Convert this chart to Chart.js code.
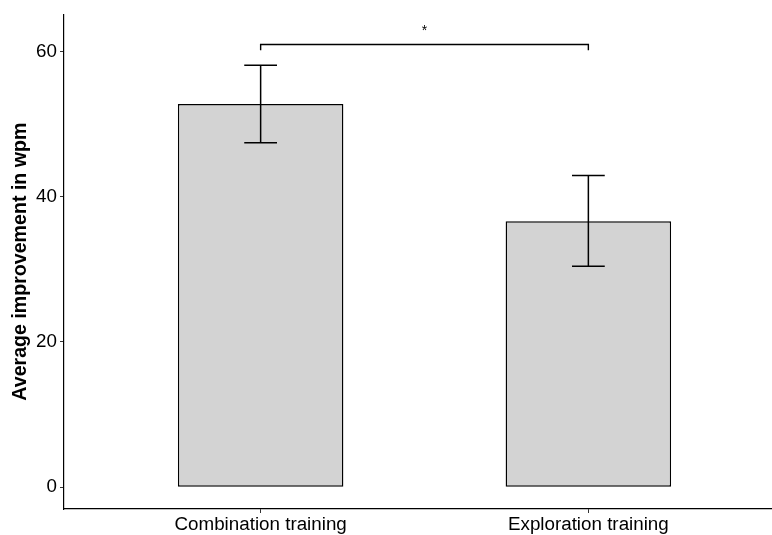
<!DOCTYPE html>
<html><head><meta charset="utf-8">
<script src="https://cdn.jsdelivr.net/npm/chart.js@4"></script>
<style>html,body{margin:0;padding:0;overflow:hidden;background:#fff}#wrap{width:800px;height:535px}</style>
</head><body><div id="wrap"><canvas id="c" width="800" height="535"></canvas></div>
<script>
const categories = ['Combination training', 'Exploration training'];
const meanImprovement = [52.75, 36.6];
const errLow = [47.4, 30.4];
const errHigh = [58.1, 42.9];
const yTicks = [0, 20, 40, 60];
const sigPair = [1, 2];          // compared categories (1-based)
const sigLevel = [60.95, 60.15]; // bracket top, bracket tick end
const sigLabel = ['*'];

const FONT = '"Liberation Sans", Arial, sans-serif';

const annot = {
  id: 'annot',
  afterDatasetsDraw(chart) {
    const ctx = chart.ctx, xs = chart.scales.x, ys = chart.scales.y;
    ctx.save();
    ctx.strokeStyle = '#000';
    ctx.lineWidth = 1.5;
    categories.forEach((c, i) => {
      const xc = xs.getPixelForValue(i + 1);
      const xl = xs.getPixelForValue(i + 1 - 0.05), xr = xs.getPixelForValue(i + 1 + 0.05);
      const yl = ys.getPixelForValue(errLow[i]), yh = ys.getPixelForValue(errHigh[i]);
      ctx.beginPath();
      ctx.moveTo(xc, yl); ctx.lineTo(xc, yh);
      ctx.moveTo(xl, yl); ctx.lineTo(xr, yl);
      ctx.moveTo(xl, yh); ctx.lineTo(xr, yh);
      ctx.stroke();
    });
    const x1 = xs.getPixelForValue(sigPair[0]), x2 = xs.getPixelForValue(sigPair[1]);
    const yt = ys.getPixelForValue(sigLevel[0]), yb = ys.getPixelForValue(sigLevel[1]);
    ctx.lineWidth = 1.4;
    ctx.beginPath();
    ctx.moveTo(x1, yb); ctx.lineTo(x1, yt); ctx.lineTo(x2, yt); ctx.lineTo(x2, yb);
    ctx.stroke();
    ctx.fillStyle = '#000';
    ctx.font = '14px ' + FONT;
    ctx.textAlign = 'center';
    ctx.textBaseline = 'middle';
    ctx.fillText(sigLabel[0], (x1 + x2) / 2, yt - 13.5);
    ctx.restore();
  }
};

new Chart(document.getElementById('c'), {
  type: 'bar',
  data: {
    datasets: [{
      data: meanImprovement.map((v, i) => ({ x: i + 1, y: v })),
      backgroundColor: '#D3D3D3',
      borderColor: '#000',
      borderWidth: 1.4,
      borderSkipped: false,
      barPercentage: 0.505,
      categoryPercentage: 1
    }]
  },
  options: {
    responsive: false,
    devicePixelRatio: 1,
    animation: false,
    layout: { padding: { top: 12, right: 15, left: 0, bottom: 0 } },
    plugins: { legend: { display: false }, tooltip: { enabled: false } },
    scales: {
      x: {
        type: 'linear', min: 0.4, max: 2.6, offset: false,
        afterBuildTicks: s => { s.ticks = categories.map((c, i) => ({ value: i + 1 })); },
        afterFit: s => { s.height = 26; },
        ticks: {
          autoSkip: false, maxRotation: 0, padding: 1, color: '#000',
          font: { family: FONT, size: 18.8 },
          callback: v => categories[v - 1]
        },
        grid: { display: true, offset: false, drawOnChartArea: false, drawTicks: true, tickLength: 4, tickColor: '#333', tickWidth: 1 },
        border: { display: true, color: '#000', width: 1.2 }
      },
      y: {
        type: 'linear', min: -3.0, max: 65.1,
        afterBuildTicks: s => { s.ticks = yTicks.map(v => ({ value: v })); },
        afterFit: s => { s.width = 64; },
        ticks: { padding: 3, color: '#000', font: { family: FONT, size: 18.8 } },
        grid: { display: true, drawOnChartArea: false, drawTicks: true, tickLength: 4, tickColor: '#333', tickWidth: 1 },
        border: { display: true, color: '#000', width: 1.2 },
        title: {
          display: true, text: 'Average improvement in wpm', color: '#000',
          font: { family: FONT, size: 19.6, weight: 'bold' },
          padding: { top: 9, bottom: 0 }
        }
      }
    }
  },
  plugins: [annot]
});
</script></body></html>
